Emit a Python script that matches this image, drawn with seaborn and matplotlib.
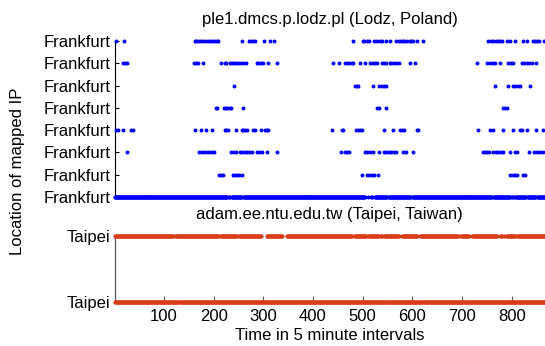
import numpy as np
import pandas as pd
import matplotlib
matplotlib.use("Agg")
import matplotlib.pyplot as plt
import seaborn as sns

# Observed 5-minute intervals at which each mapped location was seen
frankfurt_1 = [3, 19, 162, 165, 168, 172, 177, 181, 186, 190, 195, 199, 203, 206, 209,
               258, 272, 275, 279, 283, 302, 313, 321, 481, 500, 503, 508, 513, 523, 528,
               535, 538, 548, 555, 568, 573, 578, 581, 584, 589, 595, 598, 602, 610, 621,
               753, 758, 763, 768, 772, 776, 780, 790, 796, 807, 822, 830, 843, 847, 850,
               854, 864]
frankfurt_2 = [17, 21, 25, 160, 165, 169, 178, 215, 223, 226, 234, 238, 241, 245, 250,
               255, 260, 266, 287, 290, 295, 299, 310, 327, 440, 453, 464, 469, 473, 478,
               481, 495, 505, 515, 520, 525, 529, 538, 543, 548, 555, 558, 563, 568, 574,
               595, 606, 730, 750, 756, 762, 766, 776, 793, 798, 803, 820, 825, 830, 835,
               840, 849]
frankfurt_3 = [242, 484, 488, 491, 520, 533, 538, 543, 547, 766, 793, 803, 807, 813, 817, 837]
frankfurt_4 = [205, 207, 221, 225, 228, 233, 236, 260, 528, 533, 548, 783, 786, 790]
frankfurt_5 = [3, 8, 17, 33, 37, 162, 174, 185, 196, 223, 226, 230, 246, 257, 260, 263,
               267, 279, 283, 295, 303, 307, 310, 438, 458, 460, 487, 491, 495, 499, 543,
               562, 575, 579, 583, 609, 612, 733, 756, 762, 782, 802, 817, 820, 830, 849,
               862]
frankfurt_6 = [26, 171, 176, 181, 186, 191, 196, 201, 236, 241, 246, 253, 258, 263, 268,
               272, 277, 287, 292, 297, 307, 328, 456, 464, 468, 473, 505, 509, 515, 520,
               533, 543, 548, 554, 558, 563, 568, 582, 587, 601, 742, 746, 751, 755, 763,
               768, 773, 778, 783, 796, 807, 811, 835, 845, 850, 855, 861, 866]
frankfurt_7 = [211, 215, 218, 240, 243, 248, 252, 257, 498, 508, 513, 518, 523, 531, 797,
               802, 807, 811, 822, 827]
# Nearly continuous series, stored as runs of consecutive intervals (first, last)
frankfurt_8_runs = [(1, 227), (231, 233), (237, 257), (261, 504), (511, 511), (517, 519),
                    (524, 549), (553, 597), (601, 760), (764, 797), (801, 804), (808, 828),
                    (832, 847), (851, 867)]
taipei_upper_runs = [(1, 120), (124, 210), (214, 247), (251, 296), (307, 338), (347, 478),
                     (483, 507), (511, 532), (536, 539), (543, 573), (580, 610), (616, 691),
                     (695, 696), (699, 714), (721, 770), (777, 781), (785, 786), (790, 807),
                     (811, 867)]
taipei_lower_runs = [(1, 130), (133, 546), (549, 620), (623, 704), (707, 867)]

frankfurt_labels = ["Frankfurt"] * 8
taipei_labels = ["Taipei"] * 2
x_ticks = [100, 200, 300, 400, 500, 600, 700, 800]
x_range = (1, 867)

top_title = "ple1.dmcs.p.lodz.pl (Lodz, Poland)"
bottom_title = "adam.ee.ntu.edu.tw (Taipei, Taiwan)"
x_title = "Time in 5 minute intervals"
y_title = "Location of mapped IP"


def expand(runs):
    return np.concatenate([np.arange(a, b + 1) for a, b in runs])


sns.set_style("white")
plt.rcParams["font.family"] = ["Liberation Sans", "DejaVu Sans"]
plt.rcParams["font.size"] = 12
plt.rcParams["text.color"] = "black"
plt.rcParams["axes.labelcolor"] = "black"

blue = "#0000FF"
red = "#DC3D19"

top_series = [frankfurt_1, frankfurt_2, frankfurt_3, frankfurt_4, frankfurt_5,
              frankfurt_6, frankfurt_7, expand(frankfurt_8_runs)]
top_df = pd.concat(
    [pd.DataFrame({"t": np.asarray(s), "row": 7 - i}) for i, s in enumerate(top_series)],
    ignore_index=True)
bottom_df = pd.concat(
    [pd.DataFrame({"t": expand(taipei_upper_runs), "row": 1}),
     pd.DataFrame({"t": expand(taipei_lower_runs), "row": 0})],
    ignore_index=True)

fig = plt.figure(figsize=(5.45, 3.46), dpi=100)
W, H = 545.0, 346.0
left = 114.7 / W
width = 1.0 - left
ax1 = fig.add_axes([left, 1 - 197 / H, width, 156 / H])
ax2 = fig.add_axes([left, 1 - 302.3 / H, width, 66.3 / H])

sns.scatterplot(data=top_df, x="t", y="row", ax=ax1, color=blue, s=8,
                linewidth=0, clip_on=False, legend=False, zorder=3)
sns.scatterplot(data=bottom_df, x="t", y="row", ax=ax2, color=red, s=8,
                linewidth=0, clip_on=False, legend=False, zorder=3)

for ax in (ax1, ax2):
    ax.set_xlim(*x_range)
    ax.set_xlabel("")
    ax.set_ylabel("")
    for side in ("top", "right"):
        ax.spines[side].set_visible(False)
    ax.spines["bottom"].set_color("black")
    ax.spines["bottom"].set_linewidth(0.8)
    ax.tick_params(axis="y", direction="in", length=3, width=0.8, pad=3,
                   labelsize=12, colors="black", left=True)

ax1.spines["left"].set_color("black")
ax1.spines["left"].set_linewidth(0.8)
ax2.spines["left"].set_color("#555555")
ax2.spines["left"].set_linewidth(0.9)

ax1.set_ylim(0, 7)
ax1.set_yticks(range(8))
ax1.set_yticklabels(frankfurt_labels[::-1])
ax1.set_xticks([])
ax1.set_title(top_title, fontsize=12, pad=12, color="black")

ax2.set_ylim(0, 1)
ax2.set_yticks([0, 1])
ax2.set_yticklabels(taipei_labels)
ax2.set_xticks(x_ticks)
ax2.set_xticklabels([str(v) for v in x_ticks])
ax2.tick_params(axis="x", direction="in", length=4, width=0.8, pad=5,
                labelsize=12, colors="#555555", labelcolor="black", bottom=True)
ax2.set_title(bottom_title, fontsize=12, pad=12, color="black")
ax2.set_xlabel(x_title, fontsize=12, labelpad=3)

fig.text(18 / W, 1 - 171 / H, y_title, rotation=90, ha="center", va="center",
         fontsize=12)

fig.savefig("out.png", dpi=100, facecolor="white")
